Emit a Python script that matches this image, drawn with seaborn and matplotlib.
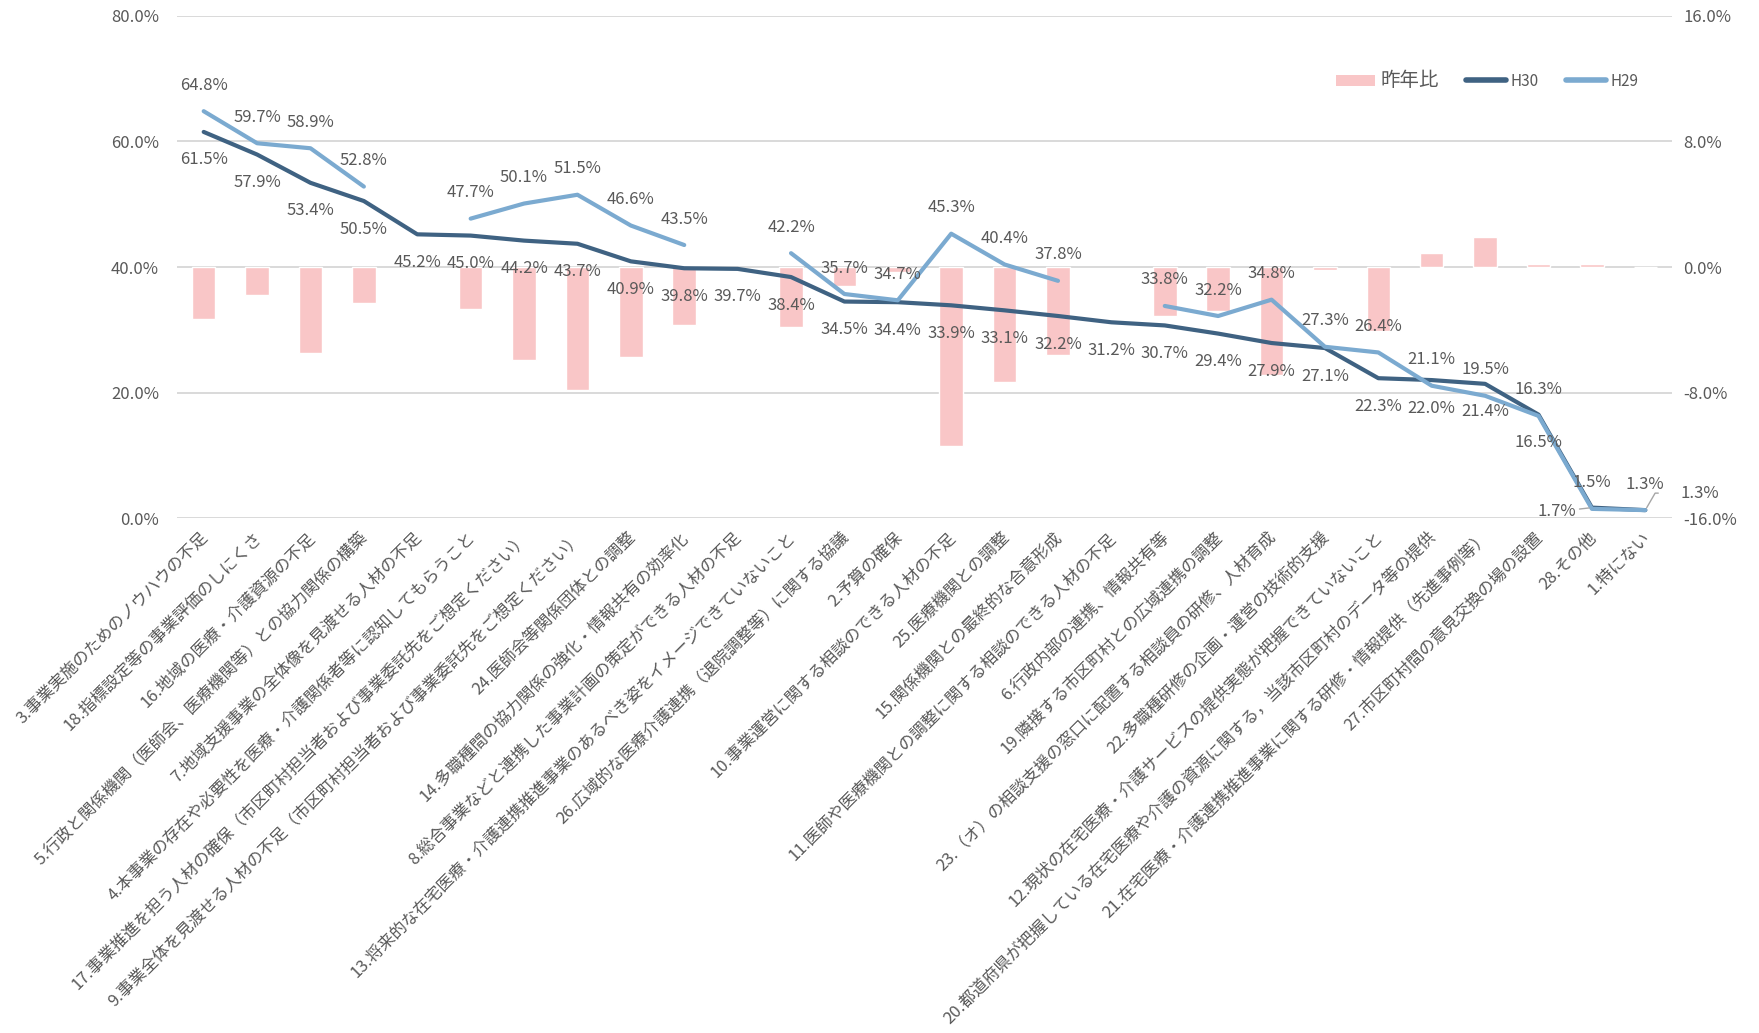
import numpy as np
import pandas as pd
import matplotlib
matplotlib.use("Agg")
import matplotlib.pyplot as plt
import matplotlib.transforms as mtransforms
from matplotlib.lines import Line2D
from matplotlib.patches import Patch
from matplotlib.ticker import FixedLocator, FuncFormatter
import seaborn as sns

# ---- data -------------------------------------------------------------
categories = [
    "3.事業実施のためのノウハウの不足",
    "18.指標設定等の事業評価のしにくさ",
    "16.地域の医療・介護資源の不足",
    "5.行政と関係機関（医師会、医療機関等）との協力関係の構築",
    "7.地域支援事業の全体像を見渡せる人材の不足",
    "4.本事業の存在や必要性を医療・介護関係者等に認知してもらうこと",
    "17.事業推進を担う人材の確保（市区町村担当者および事業委託先をご想定ください）",
    "9.事業全体を見渡せる人材の不足（市区町村担当者および事業委託先をご想定ください）",
    "24.医師会等関係団体との調整",
    "14.多職種間の協力関係の強化・情報共有の効率化",
    "8.総合事業などと連携した事業計画の策定ができる人材の不足",
    "13.将来的な在宅医療・介護連携推進事業のあるべき姿をイメージできていないこと",
    "26.広域的な医療介護連携（退院調整等）に関する協議",
    "2.予算の確保",
    "10.事業運営に関する相談のできる人材の不足",
    "25.医療機関との調整",
    "15.関係機関との最終的な合意形成",
    "11.医師や医療機関との調整に関する相談のできる人材の不足",
    "6.行政内部の連携、情報共有等",
    "19.隣接する市区町村との広域連携の調整",
    "23.（オ）の相談支援の窓口に配置する相談員の研修、人材育成",
    "22.多職種研修の企画・運営の技術的支援",
    "12.現状の在宅医療・介護サービスの提供実態が把握できていないこと",
    "20.都道府県が把握している在宅医療や介護の資源に関する，当該市区町村のデータ等の提供",
    "21.在宅医療・介護連携推進事業に関する研修・情報提供（先進事例等）",
    "27.市区町村間の意見交換の場の設置",
    "28.その他",
    "1.特にない",
]

h30 = [61.5, 57.9, 53.4, 50.5, 45.2, 45.0, 44.2, 43.7, 40.9, 39.8, 39.7, 38.4,
       34.5, 34.4, 33.9, 33.1, 32.2, 31.2, 30.7, 29.4, 27.9, 27.1, 22.3, 22.0,
       21.4, 16.5, 1.7, 1.3]

h29 = [64.8, 59.7, 58.9, 52.8, np.nan, 47.7, 50.1, 51.5, 46.6, 43.5, np.nan, 42.2,
       35.7, 34.7, 45.3, 40.4, 37.8, np.nan, 33.8, 32.2, 34.8, 27.3, 26.4, 21.1,
       19.5, 16.3, 1.5, 1.3]

yoy = [-3.3, -1.8, -5.5, -2.3, np.nan, -2.7, -5.9, -7.8, -5.7, -3.7, np.nan, -3.8,
       -1.2, -0.3, -11.4, -7.3, -5.6, np.nan, -3.1, -2.8, -6.9, -0.2, -4.1, 0.9,
       1.9, 0.2, 0.2, 0.0]

left_ticks = [0, 20, 40, 60, 80]
right_ticks = [-16, -8, 0, 8, 16]

# ---- style ------------------------------------------------------------
sns.set_theme(style="white")
plt.rcParams["font.family"] = ["Noto Sans CJK JP", "DejaVu Sans"]

TEXT = "#595959"
C_H30 = "#3F6282"
C_H29 = "#7BAAD0"
C_BAR = "#F9C6C7"
GRID = "#D9D9D9"

W, H = 1759, 1033
fig = plt.figure(figsize=(W / 100, H / 100), dpi=100)
ax_left, ax_right, ax_top, ax_bottom = 177, 1672, 15.7, 518.3
ax = fig.add_axes([ax_left / W, 1 - ax_bottom / H,
                   (ax_right - ax_left) / W, (ax_bottom - ax_top) / H])
ax2 = ax.twinx()

pos = np.arange(len(categories))

# year-on-year bars on the secondary axis
df_bar = pd.DataFrame({"pos": pos, "yoy": yoy}).dropna()
sns.barplot(data=df_bar, x="pos", y="yoy", ax=ax2, color=C_BAR, width=0.44,
            saturation=1, native_scale=True, errorbar=None, zorder=2)

# H30 line
df30 = pd.DataFrame({"pos": pos, "val": h30})
sns.lineplot(data=df30, x="pos", y="val", ax=ax, color=C_H30, linewidth=3.0,
             solid_capstyle="round", solid_joinstyle="round", zorder=3)

# H29 line, broken where no value exists
df29 = pd.DataFrame({"pos": pos, "val": h29})
df29["seg"] = df29["val"].isna().cumsum()
df29 = df29.dropna()
sns.lineplot(data=df29, x="pos", y="val", units="seg", estimator=None, ax=ax,
             color=C_H29, linewidth=3.0, solid_capstyle="round",
             solid_joinstyle="round", zorder=4)

# layering: lines axis above the bar axis
ax.set_zorder(ax2.get_zorder() + 1)
ax.patch.set_visible(False)

ax.set_xlim(-0.5, len(categories) - 0.5)
ax.set_ylim(0, 80)
ax2.set_ylim(-16, 16)

for a in (ax, ax2):
    for s in a.spines.values():
        s.set_visible(False)
    a.set_xlabel("")
    a.set_ylabel("")

ax2.set_axisbelow(True)
ax2.yaxis.set_major_locator(FixedLocator(right_ticks))
ax2.yaxis.grid(True, color=GRID, linewidth=1.4)
ax2.yaxis.set_major_formatter(FuncFormatter(lambda v, p: f"{v:.1f}%"))
ax2.tick_params(axis="y", length=0, pad=8, labelsize=12, labelcolor=TEXT)

ax.yaxis.grid(False)
ax.xaxis.grid(False)
ax.yaxis.set_major_locator(FixedLocator(left_ticks))
ax.yaxis.set_major_formatter(FuncFormatter(lambda v, p: f"{v:.1f}%"))
ax.tick_params(axis="y", length=0, pad=13, labelsize=12, labelcolor=TEXT)

ax.set_xticks(pos)
ax.set_xticklabels(categories, rotation=45, ha="right", va="center",
                   rotation_mode="anchor", fontsize=12, color=TEXT)
ax.tick_params(axis="x", length=0, pad=12)
shift = mtransforms.ScaledTranslation(2 / 100, 0, fig.dpi_scale_trans)
for lab in ax.get_xticklabels():
    lab.set_transform(lab.get_transform() + shift)

# ---- data labels ------------------------------------------------------
lab_kw = dict(textcoords="offset pixels", ha="center", va="center",
              fontsize=12, color=TEXT, zorder=6)
for i, v in enumerate(h29):
    if not np.isnan(v):
        ax.annotate(f"{v:.1f}%", (i, v), xytext=(0, 26), **lab_kw)

n = len(h30)
for i, v in enumerate(h30):
    if i == n - 2:
        ax.annotate(f"{v:.1f}%", (i, v), xytext=(-35, -4),
                    arrowprops=dict(arrowstyle="-", color="#A6A6A6", lw=1,
                                    shrinkA=0, shrinkB=2), **lab_kw)
    elif i == n - 1:
        ax.annotate(f"{v:.1f}%", (i, v), xytext=(55, 17),
                    arrowprops=dict(arrowstyle="-", color="#A6A6A6", lw=1,
                                    shrinkA=14, shrinkB=2,
                                    connectionstyle="angle,angleA=0,angleB=60,rad=0"),
                    **lab_kw)
    else:
        ax.annotate(f"{v:.1f}%", (i, v), xytext=(0, -28), **lab_kw)

# ---- legend -----------------------------------------------------------
handles = [Patch(facecolor=C_BAR, edgecolor="none"),
           Line2D([0], [0], color=C_H30, lw=4.0, solid_capstyle="round"),
           Line2D([0], [0], color=C_H29, lw=4.0, solid_capstyle="round")]
leg = fig.legend(handles, ["昨年比", "H30", "H29"], ncol=3, frameon=False,
                 loc="center left", bbox_to_anchor=(1322 / W, 1 - 80 / H),
                 handlelength=2.6, handleheight=0.75, handletextpad=0.3,
                 columnspacing=1.8, labelcolor=TEXT, fontsize=11)
leg.get_texts()[0].set_fontsize(14)

fig.savefig("out.png", dpi=100)
